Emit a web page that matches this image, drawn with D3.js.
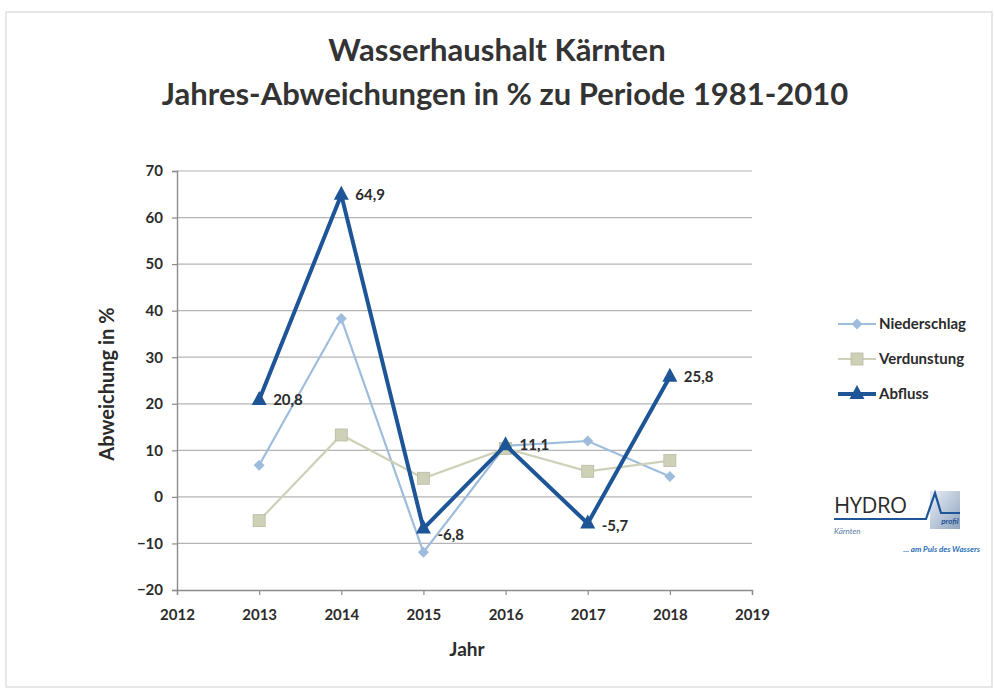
<!DOCTYPE html>
<html>
<head>
<meta charset="utf-8">
<script src="https://cdn.jsdelivr.net/npm/d3@7"></script>
<style>
  html, body { margin: 0; padding: 0; background: #fff; }
  svg { display: block; font-family: Lato, "Open Sans", sans-serif; }
</style>
</head>
<body>
<script>
// Wasserhaushalt Kärnten – yearly deviations vs 1981-2010
const years = [2013, 2014, 2015, 2016, 2017, 2018];
const niederschlag = [6.8, 38.3, -11.9, 11.0, 12.0, 4.4];
const verdunstung = [-5.1, 13.3, 4.0, 10.4, 5.5, 7.8];
const abfluss = [20.8, 64.9, -6.8, 11.1, -5.7, 25.8];
const yTicks = [-20, -10, 0, 10, 20, 30, 40, 50, 60, 70];
const xTicks = [2012, 2013, 2014, 2015, 2016, 2017, 2018, 2019];

const series = [
  { name: "Niederschlag", values: niederschlag, color: "#9ebcdb", width: 2.2, marker: "diamond" },
  { name: "Verdunstung", values: verdunstung, color: "#cfd0b8", width: 2.2, marker: "square" },
  { name: "Abfluss", values: abfluss, color: "#1d5596", width: 4, marker: "triangle", labels: true }
];

const W = 994, H = 695;
const svg = d3.select("body").append("svg").attr("width", W).attr("height", H);

// faint page frame
svg.append("rect").attr("x", 6).attr("y", 12).attr("width", W - 8).attr("height", H - 20)
  .attr("fill", "#fff").attr("stroke", "#d8d8d8").attr("stroke-width", 1.2);

const x = d3.scaleLinear().domain([2012, 2019]).range([177, 752]);
const y = d3.scaleLinear().domain([-20, 70]).range([590, 171]);

// gridlines
svg.append("g").selectAll("line").data(yTicks.filter(t => t > -20)).join("line")
  .attr("x1", x(2012)).attr("x2", x(2019))
  .attr("y1", d => y(d)).attr("y2", d => y(d))
  .attr("stroke", "#b4b4b4").attr("stroke-width", 1.2);

// axes
const yAxis = svg.append("g").attr("transform", `translate(${x(2012)},0)`)
  .call(d3.axisLeft(y).tickValues(yTicks).tickSize(5).tickPadding(9));
const xAxis = svg.append("g").attr("transform", `translate(0,${y(-20)})`)
  .call(d3.axisBottom(x).tickValues(xTicks).tickFormat(d3.format("d")).tickSize(5).tickPadding(14));
for (const ax of [yAxis, xAxis]) {
  ax.select(".domain").attr("stroke", "#8c8c8c").attr("stroke-width", 1.4);
  ax.selectAll(".tick line").attr("stroke", "#8c8c8c").attr("stroke-width", 1.2);
  ax.selectAll(".tick text").attr("fill", "#2b2b2b").attr("font-size", 15).attr("font-weight", 700)
    .attr("font-family", "Lato, sans-serif");
}

// markers
function marker(g, type, cx, cy, color) {
  if (type === "diamond") {
    g.append("path").attr("d", `M${cx},${cy - 5.5}L${cx + 5.5},${cy}L${cx},${cy + 5.5}L${cx - 5.5},${cy}Z`)
      .attr("fill", color);
  } else if (type === "square") {
    g.append("rect").attr("x", cx - 6).attr("y", cy - 6).attr("width", 12).attr("height", 12)
      .attr("fill", color).attr("stroke", "#b9bba0").attr("stroke-width", 0.8);
  } else {
    g.append("path").attr("d", `M${cx},${cy - 9}L${cx + 7.5},${cy + 5}L${cx - 7.5},${cy + 5}Z`)
      .attr("fill", color);
  }
}

const fmt = v => d3.format(".1f")(v).replace(".", ",").replace("\u2212", "-");
const line = d3.line().x((d, i) => x(years[i])).y(d => y(d));
const plot = svg.append("g");
for (const s of series) {
  const g = plot.append("g");
  g.append("path").datum(s.values).attr("d", line)
    .attr("fill", "none").attr("stroke", s.color).attr("stroke-width", s.width)
    .attr("stroke-linejoin", "miter");
  s.values.forEach((v, i) => marker(g, s.marker, x(years[i]), y(v), s.color));
  if (s.labels) {
    const dyExtra = [0, 0, 6, 0, 3, 0];
    g.selectAll("text").data(s.values).join("text")
      .attr("x", (d, i) => x(years[i]) + 14)
      .attr("y", (d, i) => y(d) + 5 + dyExtra[i])
      .attr("font-size", 15).attr("font-weight", 700).attr("fill", "#2b2b2b")
      .text(fmt);
  }
}

// titles
svg.append("text").attr("x", 497).attr("y", 61).attr("text-anchor", "middle")
  .attr("font-size", 31).attr("font-weight", 700).attr("fill", "#333")
  .text("Wasserhaushalt Kärnten");
svg.append("text").attr("x", 505).attr("y", 105).attr("text-anchor", "middle")
  .attr("font-size", 31).attr("font-weight", 700).attr("fill", "#333")
  .text("Jahres-Abweichungen in % zu Periode 1981-2010");
svg.append("text").attr("transform", "translate(114,384) rotate(-90)")
  .attr("text-anchor", "middle").attr("font-size", 20).attr("font-weight", 700).attr("fill", "#2b2b2b")
  .text("Abweichung in %");
svg.append("text").attr("x", 467).attr("y", 656).attr("text-anchor", "middle")
  .attr("font-size", 19).attr("font-weight", 700).attr("fill", "#2b2b2b")
  .text("Jahr");

// legend
const legend = svg.append("g");
series.forEach((s, i) => {
  const ly = 324 + i * 35;
  const lg = legend.append("g");
  lg.append("line").attr("x1", 838).attr("x2", 876).attr("y1", ly).attr("y2", ly)
    .attr("stroke", s.color).attr("stroke-width", s.width);
  marker(lg, s.marker, 857, ly, s.color);
  lg.append("text").attr("x", 879).attr("y", ly + 5).attr("font-size", 15).attr("font-weight", 700)
    .attr("fill", "#2b2b2b").text(s.name);
});

// HYDRO logo (approximation)
const logo = svg.append("g");
const grad = svg.append("defs").append("linearGradient").attr("id", "lg")
  .attr("x1", 0).attr("y1", 0).attr("x2", 1).attr("y2", 1);
grad.append("stop").attr("offset", 0).attr("stop-color", "#e8eef6");
grad.append("stop").attr("offset", 1).attr("stop-color", "#8fa3bd");
logo.append("rect").attr("x", 930).attr("y", 491).attr("width", 30).attr("height", 38).attr("fill", "url(#lg)");
logo.append("text").attr("x", 834).attr("y", 513).attr("font-size", 22)
  .attr("font-family", "'Open Sans', sans-serif").attr("letter-spacing", -0.5)
  .attr("fill", "#2b2b2b").text("HYDRO");
logo.append("path").attr("d", "M834,519L926,519L935,493L941,513L960,513")
  .attr("fill", "none").attr("stroke", "#1d5596").attr("stroke-width", 2.2);
logo.append("text").attr("x", 950).attr("y", 524).attr("font-size", 8).attr("font-style", "italic")
  .attr("font-weight", 700).attr("fill", "#1d5596").attr("text-anchor", "middle").text("profil");
logo.append("text").attr("x", 834).attr("y", 534).attr("font-size", 8).attr("font-style", "italic")
  .attr("fill", "#5a7aa8").text("Kärnten");
logo.append("text").attr("x", 980).attr("y", 552).attr("font-size", 8).attr("font-style", "italic")
  .attr("font-weight", 700).attr("fill", "#2a6fb8").attr("text-anchor", "end").text("... am Puls des Wassers");
</script>
</body>
</html>
